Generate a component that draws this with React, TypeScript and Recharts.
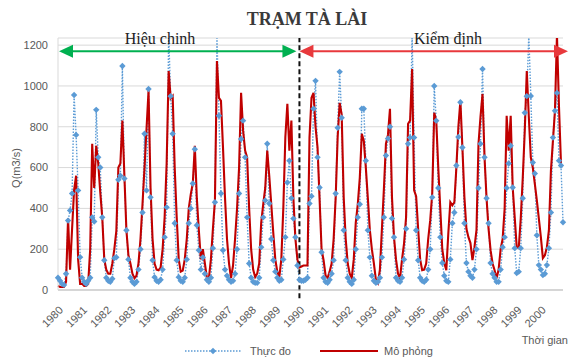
import React from 'react';
import { LineChart, Line, XAxis, YAxis, CartesianGrid, ReferenceLine } from 'recharts';

const years = [1980, 1981, 1982, 1983, 1984, 1985, 1986, 1987, 1988, 1989, 1990, 1991, 1992, 1993, 1994, 1995, 1996, 1997, 1998, 1999, 2000];
const months = ['01', '02', '03', '04', '05', '06', '07', '08', '09', '10', '11', '12'];
const yTicks = [0, 200, 400, 600, 800, 1000, 1200];

// Thực đo (observed), monthly, Jan 1980 .. Dec 2000
const observed = [
  60, 45, 30, 25, 80, 340, 390, 473, 956, 760, 488, 161,
  60, 40, 30, 45, 60, 356, 336, 883, 650, 600, 356, 146,
  60, 45, 40, 55, 156, 160, 540, 560, 1098, 546, 293, 150,
  60, 40, 30, 40, 100, 200, 380, 766, 488, 985, 454, 146,
  63, 45, 40, 50, 100, 259, 405, 1250, 950, 766, 327, 146,
  63, 45, 40, 60, 150, 327, 400, 522, 690, 317, 195, 100,
  160, 80, 50, 40, 60, 205, 430, 1250, 854, 473, 195, 100,
  70, 50, 40, 45, 80, 200, 473, 740, 830, 650, 356, 130,
  60, 40, 35, 35, 60, 210, 356, 439, 717, 424, 250, 146,
  90, 60, 45, 50, 150, 259, 527, 634, 450, 350, 259, 120,
  50, 45, 45, 50, 60, 424, 460, 888, 1025, 650, 502, 185,
  60, 40, 35, 50, 80, 146, 473, 795, 1069, 844, 293, 146,
  60, 40, 30, 50, 200, 356, 420, 888, 888, 634, 293, 160,
  70, 45, 35, 40, 60, 160, 356, 659, 742, 800, 351, 259,
  60, 45, 40, 60, 150, 300, 717, 747, 1250, 747, 293, 146,
  60, 45, 40, 50, 100, 200, 454, 1000, 830, 500, 259, 132,
  70, 45, 40, 150, 327, 380, 610, 750, 920, 698, 327, 132,
  90, 70, 60, 100, 200, 500, 717, 1083, 650, 450, 327, 132,
  80, 60, 40, 40, 100, 210, 259, 500, 620, 707, 502, 205,
  83, 90, 205, 450, 869, 950, 1250, 951, 625, 571, 268, 122,
  100, 73, 80, 122, 205, 380, 747, 878, 966, 634, 610, 332,
];

// Mô phỏng (simulated), monthly, Jan 1980 .. Nov 2000
const simulated = [
  20, 15, 15, 15, 40, 350, 100, 300, 490, 560, 150, 30,
  30, 20, 20, 30, 200, 717, 500, 707, 620, 480, 356, 150,
  100, 80, 80, 130, 200, 290, 600, 620, 830, 560, 293, 170,
  130, 80, 58, 70, 130, 250, 420, 600, 790, 976, 500, 250,
  130, 100, 97, 110, 200, 356, 620, 1073, 940, 951, 600, 356,
  150, 90, 95, 150, 250, 400, 470, 522, 707, 450, 293, 150,
  200, 130, 60, 58, 150, 300, 439, 1122, 942, 927, 700, 454,
  250, 130, 58, 120, 250, 400, 600, 966, 781, 683, 650, 400,
  200, 100, 63, 80, 130, 330, 420, 500, 683, 560, 420, 280,
  150, 90, 63, 150, 405, 750, 912, 683, 830, 450, 250, 150,
  110, 115, 120, 120, 120, 747, 942, 966, 800, 698, 450, 200,
  146, 70, 58, 90, 130, 250, 450, 750, 917, 860, 454, 250,
  130, 80, 58, 150, 330, 420, 550, 766, 730, 600, 450, 293,
  200, 130, 50, 34, 100, 300, 500, 717, 760, 888, 454, 259,
  150, 80, 58, 150, 229, 356, 815, 830, 1083, 488, 460, 300,
  150, 97, 100, 130, 250, 341, 473, 869, 830, 600, 400, 200,
  132, 97, 278, 430, 415, 430, 600, 800, 927, 698, 454, 300,
  259, 230, 146, 210, 293, 717, 850, 961, 650, 450, 300, 195,
  130, 97, 58, 100, 200, 250, 400, 854, 683, 854, 502, 356,
  210, 205, 350, 550, 781, 1073, 850, 650, 600, 520, 439, 350,
  259, 156, 170, 210, 293, 585, 732, 878, 1250, 900, 620, null,
];

const categories: string[] = [];
years.forEach((y) => months.forEach((m) => categories.push(`${y}-${m}`)));

const data = categories.map((d, i) => ({ d, obs: observed[i], sim: simulated[i] }));

const OBS = '#5B9BD5';
const SIM = '#C00000';
const AXIS_TXT = '#595959';
const FONT = '"Liberation Sans", Arial, sans-serif';
const SERIF = '"Liberation Serif", "Times New Roman", serif';

const Diamond = (p: any) => {
  const { cx, cy, index } = p;
  if (cx == null || cy == null || p.value == null) return <g key={`d${index}`} />;
  const r = 3.2;
  return <path key={`d${index}`} d={`M${cx},${cy - r}L${cx + r},${cy}L${cx},${cy + r}L${cx - r},${cy}Z`} fill={OBS} />;
};

const XTick = (props: any) => {
  const { x, y, payload } = props;
  return (
    <g transform={`translate(${x + 3},${y + 10})`}>
      <text textAnchor="end" fill={AXIS_TXT} fontSize={11} fontFamily={FONT} transform="rotate(-45)" dy="0.35em">
        {String(payload.value).slice(0, 4)}
      </text>
    </g>
  );
};

const arrowShape = (color: string, extL: number, extR: number) => (p: any) => {
  const x1 = Number(p.x1) - extL;
  const x2 = Number(p.x2) + extR;
  const y = Number(p.y1);
  const hl = 14;
  const hh = 6.5;
  return (
    <g>
      <line x1={x1 + hl - 2} y1={y} x2={x2 - hl + 2} y2={y} stroke={color} strokeWidth={2.2} />
      <path d={`M${x1},${y}L${x1 + hl},${y - hh}L${x1 + hl},${y + hh}Z`} fill={color} />
      <path d={`M${x2},${y}L${x2 - hl},${y - hh}L${x2 - hl},${y + hh}Z`} fill={color} />
    </g>
  );
};

export default function App() {
  return (
    <div style={{ position: 'absolute', left: 0, top: 0, width: 571, height: 357, background: '#fff' }}>
      <LineChart width={571} height={357} data={data} margin={{ top: 38, right: 8, bottom: 27, left: 18 }}>
        <CartesianGrid vertical={false} stroke="#d9d9d9" strokeWidth={1} />
        <XAxis
          dataKey="d"
          interval={11}
          tick={<XTick />}
          tickLine={false}
          axisLine={{ stroke: '#bfbfbf' }}
          height={40}
        />
        <YAxis
          domain={[0, 1235]}
          ticks={yTicks}
          allowDataOverflow
          width={40}
          tickLine={false}
          axisLine={{ stroke: '#d9d9d9' }}
          tickMargin={4}
          tick={{ fill: AXIS_TXT, fontSize: 11, fontFamily: FONT }}
        />
        <Line
          dataKey="obs"
          stroke={OBS}
          strokeWidth={1.4}
          strokeDasharray="1.5 1.5"
          dot={Diamond}
          activeDot={false}
          isAnimationActive={false}
        />
        <Line
          dataKey="sim"
          stroke={SIM}
          strokeWidth={2.1}
          dot={false}
          activeDot={false}
          isAnimationActive={false}
        />
        <ReferenceLine
          segment={[{ x: '1990-01', y: -40 }, { x: '1990-01', y: 1235 }]}
          stroke="#111"
          strokeWidth={2}
          strokeDasharray="5 3"
          ifOverflow="visible"
        />
        <ReferenceLine
          segment={[{ x: '1980-01', y: 1170 }, { x: '1989-12', y: 1170 }]}
          ifOverflow="visible"
          shape={arrowShape('#00B050', -1, -1)}
        />
        <ReferenceLine
          segment={[{ x: '1990-01', y: 1170 }, { x: '2000-12', y: 1170 }]}
          ifOverflow="visible"
          shape={arrowShape('#E8393C', 0, 5)}
        />
      </LineChart>
      <svg width={571} height={357} style={{ position: 'absolute', left: 0, top: 0, pointerEvents: 'none' }}>
        <text x={307} y={25} textAnchor="middle" fontFamily={SERIF} fontWeight="bold" fontSize={18} fill="#3a3a3a">TRẠM TÀ LÀI</text>
        <text x={160} y={44} textAnchor="middle" fontFamily={SERIF} fontSize={16} fill="#222">Hiệu chinh</text>
        <text x={448} y={44} textAnchor="middle" fontFamily={SERIF} fontSize={16} fill="#222">Kiểm định</text>
        <text x={20} y={168} textAnchor="middle" fontFamily={FONT} fontSize={11} fill={AXIS_TXT} transform="rotate(-90 20 168)">Q(m3/s)</text>
        <text x={568} y={344} textAnchor="end" fontFamily={FONT} fontSize={11} fill={AXIS_TXT}>Thời gian</text>
        <line x1={185} y1={351} x2={242} y2={351} stroke={OBS} strokeWidth={1.4} strokeDasharray="1.5 1.5" />
        <path d="M213,347.8L216.2,351L213,354.2L209.8,351Z" fill={OBS} />
        <text x={250} y={355} fontFamily={FONT} fontSize={11} fill={AXIS_TXT}>Thực đo</text>
        <line x1={320} y1={351} x2={378} y2={351} stroke={SIM} strokeWidth={2} />
        <text x={384} y={355} fontFamily={FONT} fontSize={11} fill={AXIS_TXT}>Mô phỏng</text>
      </svg>
    </div>
  );
}
